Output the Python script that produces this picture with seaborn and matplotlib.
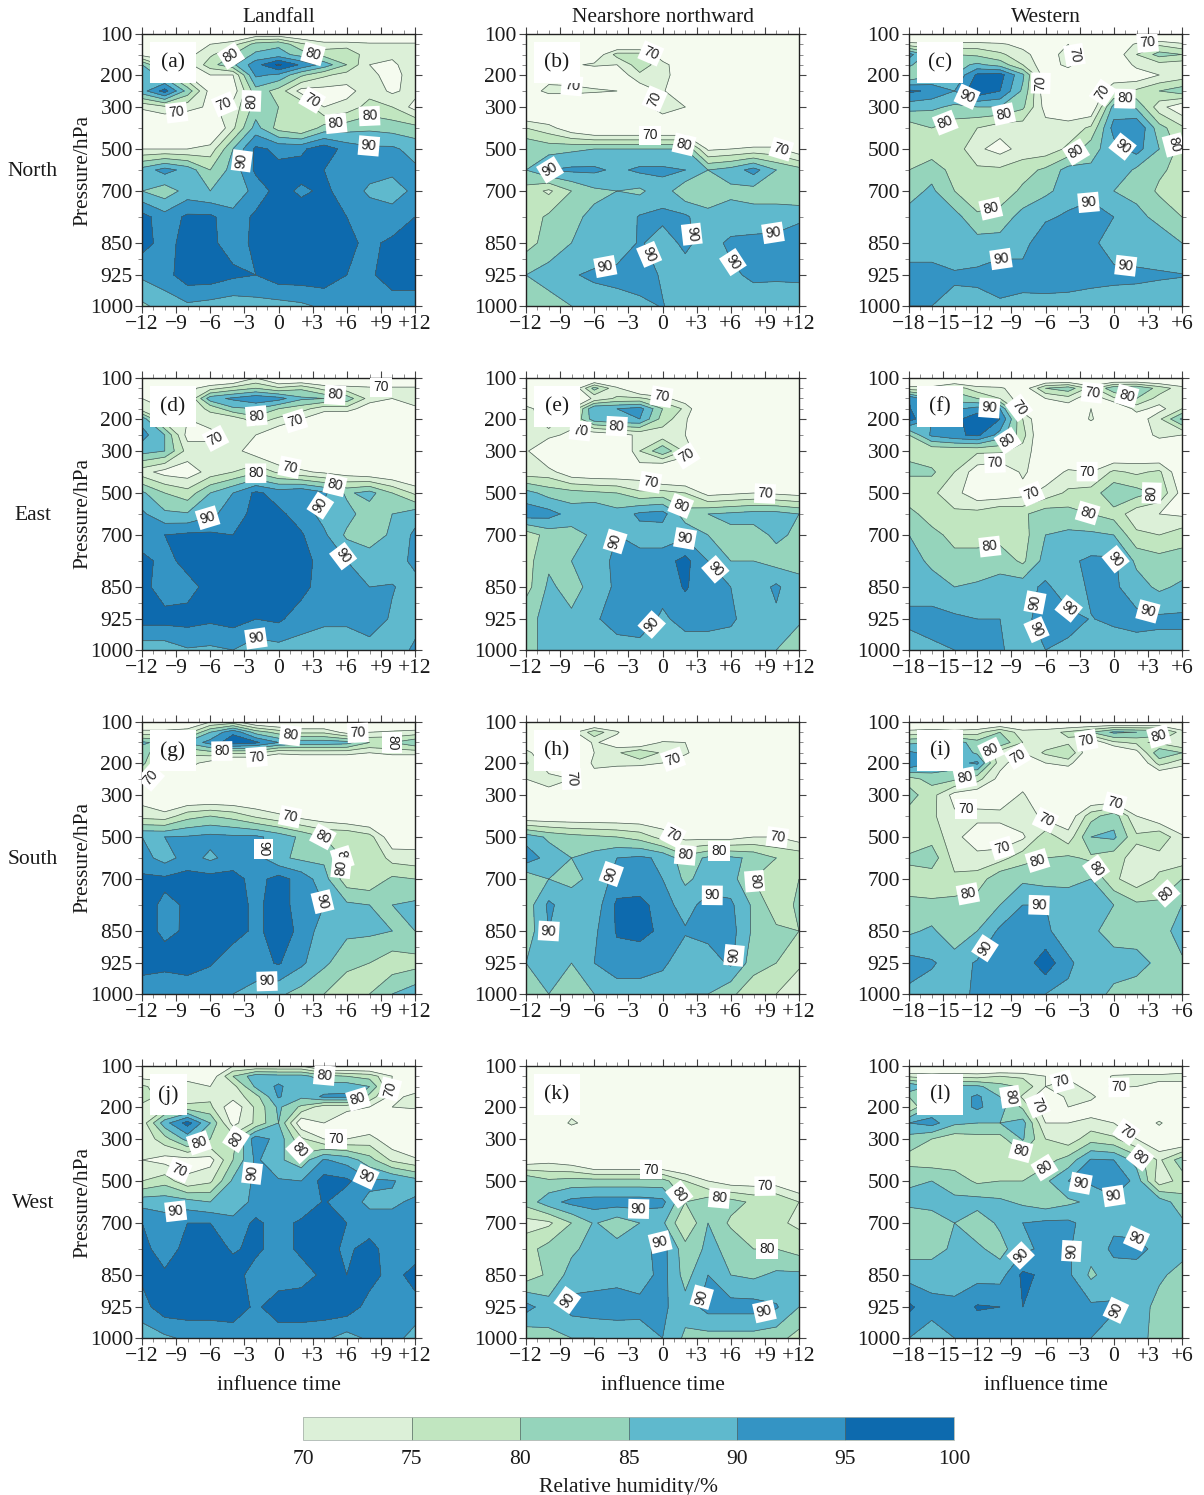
import numpy as np
import seaborn as sns
import matplotlib
matplotlib.use("Agg")
import matplotlib.pyplot as plt
from matplotlib.cm import ScalarMappable
from matplotlib.colors import BoundaryNorm, ListedColormap
from matplotlib.patches import Rectangle

# pressure rows of every grid, top to bottom
pressure = [100, 125, 150, 175, 200, 250, 300, 400, 500, 600, 700, 775, 850, 925, 1000]
time_land = list(range(-12, 13, 2))
time_west = list(range(-18, 7, 2))

row_names = ["North", "East", "South", "West"]
col_names = ["Landfall", "Nearshore northward", "Western"]
rh_levels = [70, 75, 80, 85, 90, 95, 100]

rh_a = [
    [62, 62, 62, 62, 62, 66, 66, 64, 62, 62, 62, 62, 62],
    [66, 66, 66, 70, 73, 82, 84, 76, 72, 72, 71, 71, 71],
    [68, 68, 68, 74, 80, 86, 87, 83, 78, 80, 71, 71, 72],
    [85, 72, 68, 78, 84, 93, 101, 94, 88, 80, 70, 69, 73],
    [90, 82, 70, 70, 70, 91, 89, 81, 76, 73, 72, 67, 74],
    [88, 97, 83, 68, 67, 83, 78, 68, 68, 68, 73, 69, 72],
    [71, 74, 72, 69, 72, 82, 80, 80, 70, 72, 77, 75, 68],
    [62, 62, 62, 62, 74, 87, 78, 75, 82, 83, 84, 83, 82],
    [70, 70, 70, 72, 85, 96, 94, 94, 98, 93, 91, 91, 88],
    [87, 92, 88, 80, 87, 96, 96, 97, 95, 93, 92, 91, 91],
    [85, 82, 87, 85, 86, 92, 97, 94, 96, 93, 89, 88, 91],
    [97, 92, 96, 96, 92, 96, 97, 98, 97, 95, 93, 92, 95],
    [97, 93, 97, 96, 93, 96, 97, 97, 97, 96, 94, 96, 97],
    [91, 93, 98, 98, 96, 95, 98, 98, 98, 95, 94, 98, 98],
    [84, 87, 89, 88, 87, 88, 88, 89, 91, 92, 92, 92, 92],
]
rh_b = [
    [60, 60, 60, 60, 60, 60, 60, 60, 60, 60, 60, 60, 60],
    [60, 60, 60, 60, 62, 62, 60, 60, 60, 60, 60, 60, 60],
    [62, 62, 63, 65, 77, 77, 66, 60, 60, 60, 60, 60, 60],
    [64, 67, 69, 71, 70, 78, 72, 65, 60, 60, 60, 60, 60],
    [66, 67, 66, 64, 66, 74, 72, 66, 60, 60, 60, 60, 60],
    [66, 72, 72, 71, 70, 66, 71, 62, 60, 60, 60, 60, 60],
    [60, 60, 60, 60, 60, 66, 74, 70, 60, 60, 60, 60, 60],
    [75, 72, 66, 62, 62, 62, 62, 62, 60, 60, 60, 60, 60],
    [85, 83, 84, 85, 85, 85, 85, 85, 69, 70, 71, 71, 66],
    [85, 90, 91, 91, 89, 91, 91, 90, 85, 87, 92, 85, 82],
    [78, 74, 80, 84, 85, 84, 88, 81, 83, 84, 83, 83, 80],
    [77, 81, 84, 86, 86, 90.5, 91, 91, 86, 87, 87, 87, 89],
    [78, 82, 85, 86, 87, 90.5, 88, 91, 88, 91, 91.5, 92, 93],
    [85, 87, 89.5, 91, 91.5, 92, 89.5, 88, 87.5, 89, 91, 90.8, 91],
    [80, 83, 85, 87, 88, 89, 90.2, 88, 87, 87, 87, 87, 87],
]
rh_c = [
    [60, 60, 60, 60, 60, 60, 60, 60, 60, 60, 60, 60, 60],
    [72, 71, 72, 72, 71, 68, 70, 70, 62, 64, 71, 74, 71],
    [92, 82, 80, 79, 76, 72, 66, 73, 62, 66, 75, 82, 80],
    [86, 80, 83, 86, 83, 75, 66, 72, 62, 62, 72, 73, 72],
    [80, 84, 85, 96, 97, 86, 66, 65, 65, 66, 66, 70, 72],
    [96, 94, 90, 99, 95, 84, 66, 65, 65, 74, 76, 80, 83],
    [87, 86, 84, 85, 85, 81, 68, 66, 65, 87, 84, 72, 66],
    [77, 80, 77, 75, 72, 72, 72, 72, 76, 92, 95, 82, 76],
    [76, 77, 78, 71, 68, 72, 72, 76, 83, 88, 92, 85, 78],
    [80, 83, 78, 76, 76, 78, 81, 87, 86, 89, 84, 81, 78],
    [83, 86, 80, 76, 77, 81, 84, 87, 88, 85, 84, 79, 78],
    [87, 87, 87, 81, 82, 87, 89, 91, 93, 90, 86, 84, 80],
    [87, 87, 87, 87, 87, 88, 94, 91, 91, 88, 87, 87, 85],
    [92, 92, 90.5, 91, 93, 92, 93, 92.5, 91.5, 91, 91, 90.5, 90.2],
    [90, 90, 89, 88.5, 89, 88.5, 88, 88, 88, 88, 87.5, 87.5, 87.5],
]
rh_d = [
    [62, 62, 62, 62, 62, 70, 62, 62, 62, 62, 62, 62, 62],
    [66, 66, 68, 73, 77, 80, 76, 79, 73, 72, 71, 71, 71],
    [70, 68, 69, 88, 91, 94, 92, 86, 85, 83, 73, 70, 75],
    [72, 70, 72, 76, 84, 85, 80, 77, 72, 73, 66, 66, 68],
    [88, 72, 70, 73, 72, 78, 74, 70, 65, 62, 62, 62, 62],
    [92, 85, 68, 68, 72, 70, 65, 62, 62, 62, 62, 62, 62],
    [87, 85, 73, 73, 72, 67, 62, 62, 62, 62, 62, 62, 62],
    [72, 68, 67, 72, 75, 79, 74, 71, 69, 67, 65, 64, 62],
    [86, 80, 77, 85, 90, 96, 93, 95, 91, 84, 87, 80, 74],
    [91, 86, 85.5, 89, 92, 97, 96, 93, 88, 87, 82, 85, 88],
    [91, 95, 96, 96, 95, 97, 98, 95.5, 91, 84, 82, 86, 91],
    [97, 93, 97, 96, 96, 97, 97, 97, 93, 90, 88, 86, 92],
    [97, 92, 93, 97, 96, 97, 97, 97, 92, 91, 90, 90.5, 87],
    [97, 97, 97, 96, 97, 95, 96, 92, 91, 91, 94, 89, 88],
    [87, 87, 89.5, 89, 90, 87, 88, 88, 87, 87, 87, 87, 91],
]
rh_e = [
    [60, 60, 60, 60, 60, 60, 60, 60, 60, 60, 60, 60, 60],
    [62, 62, 64, 82, 71, 62, 60, 60, 60, 60, 60, 60, 60],
    [64, 64, 64, 71, 76, 76, 72, 66, 66, 60, 60, 60, 60],
    [72, 66, 70, 90, 90, 92, 80, 74, 60, 60, 60, 60, 60],
    [73, 67, 74, 88, 90, 90, 78, 71, 60, 60, 60, 60, 60],
    [72, 72, 68, 66, 68, 71, 72, 70, 60, 60, 60, 60, 60],
    [71, 62, 60, 60, 60, 75, 84, 74, 60, 60, 60, 60, 60],
    [72, 72, 66, 65, 65, 66, 60, 60, 60, 60, 60, 60, 60],
    [87, 83, 82, 81, 80, 76, 77, 75, 68, 69, 70, 69, 68],
    [93, 92, 88, 90, 87, 91, 92, 82, 85, 86, 87, 87, 85],
    [77, 82, 83, 86, 90, 88, 87, 89, 85, 84, 83, 86, 84],
    [78, 84, 85, 86, 92, 92, 93, 96.5, 90, 85, 85, 83, 84],
    [78, 86, 83, 87, 91, 92, 92, 95.5, 92, 90, 87, 91, 86],
    [84, 86, 86, 89, 93, 93, 89, 92, 92, 91, 87, 89, 86],
    [84, 86, 86, 85, 87, 88, 87, 87, 87, 87, 86, 85, 81],
]
rh_f = [
    [60, 60, 60, 60, 60, 60, 60, 60, 60, 60, 60, 60, 60],
    [72, 72, 78, 72, 71, 66, 80, 83, 73, 84, 85, 78, 72],
    [95, 85, 83, 80, 75, 66, 70, 73, 65, 74, 80, 73, 72],
    [96, 80, 89, 92, 90, 67, 62, 66, 70, 62, 72, 68, 75],
    [97, 90, 93, 99, 95, 75, 62, 62, 71, 62, 66, 74, 86],
    [80, 91, 94, 96, 88, 77, 62, 62, 62, 62, 65, 72, 70],
    [79, 76, 76, 76, 76, 73, 65, 62, 62, 62, 64, 62, 60],
    [81, 81, 75, 67, 65, 71, 66, 71, 70, 76, 74, 76, 65],
    [76, 76, 72, 66, 66, 68, 72, 76, 77, 84, 82, 79, 68],
    [82, 77, 76, 77, 80, 79, 83, 82, 80, 78, 72, 70, 69],
    [85, 82, 78, 79, 78, 78, 85, 86, 86, 85, 76, 75, 78],
    [87, 84, 82, 81, 83, 79, 87, 89, 91, 91, 84, 82, 82],
    [87, 87, 85, 86, 87, 88, 91, 87, 91, 91, 87, 84, 86],
    [92, 92, 91, 90, 90, 89, 91.5, 91.5, 89.8, 91, 91.5, 91, 91],
    [86, 89, 90, 90.5, 90.5, 88, 90, 89, 88, 87, 88, 88, 88],
]
rh_g = [
    [62, 62, 64, 70, 72, 64, 62, 62, 62, 62, 62, 62, 62],
    [72, 72, 73, 85, 94, 83, 78, 74, 74, 68, 70, 71, 72],
    [86, 83, 86, 92, 98, 96, 90, 88, 88, 87, 80, 80, 84],
    [82, 76, 76, 78, 76, 76, 71, 72, 72, 72, 70, 72, 72],
    [82, 68, 72, 68, 62, 62, 62, 62, 62, 62, 62, 62, 62],
    [72, 66, 66, 62, 62, 62, 62, 62, 62, 62, 62, 62, 62],
    [67, 62, 62, 62, 62, 62, 62, 62, 62, 62, 62, 62, 62],
    [73, 72, 78, 80, 78, 74, 71, 68, 66, 64, 62, 62, 62],
    [90, 90, 90.5, 91.5, 91, 91, 88, 84, 80, 80, 77, 66, 67],
    [92, 88, 92, 89, 92, 92, 86, 84, 84, 79, 80, 73, 72],
    [96, 96, 97, 97, 97, 93, 97, 93, 87, 77, 76, 81, 80],
    [97, 94, 95.5, 96, 97, 94, 97, 93, 90, 86, 85, 85, 86],
    [97, 94, 95.6, 97, 97, 94, 97, 94, 87, 86, 86, 85, 85],
    [97, 97, 97, 95.5, 92, 93, 95.5, 91, 86, 82, 80, 77, 78],
    [92, 90, 92, 91, 90, 88, 86, 83, 80, 75, 80, 85, 88],
]
rh_h = [
    [60, 60, 60, 60, 60, 60, 60, 60, 60, 60, 66, 66, 66],
    [62, 62, 68, 78, 71, 60, 60, 60, 60, 60, 60, 60, 60],
    [65, 62, 63, 71, 66, 63, 71, 70, 60, 60, 60, 60, 60],
    [72, 64, 64, 70, 74, 80, 74, 72, 60, 60, 60, 60, 60],
    [76, 66, 64, 71, 72, 72, 70, 62, 60, 60, 60, 60, 60],
    [70, 72, 70, 68, 62, 60, 60, 60, 60, 60, 60, 60, 60],
    [66, 68, 60, 60, 60, 60, 60, 60, 60, 60, 60, 60, 60],
    [65, 65, 65, 65, 65, 65, 65, 62, 60, 60, 60, 60, 60],
    [88, 84, 82, 81, 80, 78, 73, 68, 68, 68, 70, 70, 67],
    [93, 88, 85, 87, 90, 91, 89, 82, 86, 86, 84, 80, 79],
    [81, 85, 84, 86, 92, 91, 90, 84, 87, 87, 80, 78, 80],
    [82, 91, 87, 87, 96, 97, 92, 88, 92, 91, 84, 77, 81],
    [82, 90, 86, 89, 95.5, 96.5, 94, 90.5, 92, 92, 84, 81, 80],
    [85, 87, 85, 90, 93, 92, 91, 87, 87, 91, 82, 80, 76],
    [84, 85, 85, 85, 87, 88, 87, 85, 85, 81, 77, 75, 71],
]
rh_i = [
    [62, 62, 62, 62, 62, 62, 62, 62, 62, 62, 62, 62, 62],
    [72, 73, 72, 73, 80, 72, 73, 76, 80, 86, 85, 84, 72],
    [84, 85, 88, 82, 84, 75, 72, 74, 65, 74, 76, 74, 70],
    [91, 88, 89, 84, 72, 70, 76, 80, 64, 62, 68, 84, 80],
    [95, 90, 88, 91, 72, 66, 70, 72, 62, 62, 63, 77, 72],
    [78, 82, 81, 77, 68, 66, 62, 62, 62, 62, 62, 62, 62],
    [82, 77, 68, 66, 65, 71, 62, 62, 62, 62, 62, 62, 62],
    [78, 76, 71, 72, 72, 74, 68, 66, 78, 83, 70, 65, 62],
    [76, 78, 72, 66, 66, 69, 78, 72, 85, 86, 76, 79, 71],
    [81, 83, 73, 72, 73, 78, 80, 81, 79, 77, 73, 73, 72],
    [78, 77, 76, 77, 84, 84, 83, 84, 85, 76, 72, 76, 80],
    [81, 81, 82, 83, 85, 90, 90, 87, 87, 85, 81, 81, 85],
    [84, 86, 81, 85, 91, 91, 91, 87, 86, 83, 83, 82, 88],
    [92, 90.5, 88, 90.5, 92, 92, 98, 91, 87, 87, 86.5, 84, 84],
    [89, 88, 88, 91, 90, 91, 90, 89, 87, 84, 83, 82, 84],
]
rh_j = [
    [62, 62, 62, 62, 70, 70, 70, 70, 62, 62, 62, 62, 62],
    [68, 68, 68, 66, 80, 88, 87, 87, 82, 80, 78, 70, 64],
    [76, 72, 72, 70, 73, 86, 91, 86, 87, 88, 85, 69, 66],
    [80, 71, 71, 74, 72, 78, 90.5, 86, 91, 91, 78, 68, 72],
    [72, 73, 77, 76, 66, 76, 86, 79, 72, 72, 70, 70, 71],
    [72, 88, 97, 85, 68, 76, 85, 66, 70, 65, 65, 64, 62],
    [71, 78, 87, 80, 78, 93, 88, 76, 70, 70, 72, 66, 62],
    [70, 68, 68, 68, 80, 91, 86, 82, 90.5, 88, 82, 74, 71],
    [75, 78, 71, 74, 86, 91, 90.5, 90, 97, 96, 91, 90.5, 87],
    [88, 88, 87, 85, 86, 92, 92, 91, 95.5, 92, 89, 89, 91],
    [95, 92, 95, 95, 92, 96, 93, 96, 96, 95, 92, 92, 92],
    [97, 92, 97, 97, 94.5, 96, 93, 96, 97, 94, 97, 92, 92],
    [96, 96, 97, 97, 97, 93, 92, 93, 96, 95, 97, 93, 97],
    [93, 98, 98, 98, 98, 94, 98, 98, 98, 98, 93, 93, 93],
    [87, 89, 91, 91, 92, 92, 92, 92, 91, 88, 91, 92, 88],
]
rh_k = [
    [60, 60, 60, 60, 60, 60, 60, 60, 60, 60, 60, 60, 60],
    [60, 60, 60, 60, 60, 60, 60, 60, 60, 60, 60, 60, 60],
    [60, 60, 60, 60, 60, 60, 60, 60, 60, 60, 60, 60, 60],
    [60, 60, 60, 60, 60, 60, 60, 60, 60, 60, 60, 60, 60],
    [60, 62, 66, 64, 60, 60, 60, 60, 60, 60, 60, 60, 60],
    [60, 62, 71.5, 66, 60, 60, 60, 60, 60, 60, 60, 60, 60],
    [60, 60, 60, 60, 60, 60, 60, 60, 60, 60, 60, 60, 60],
    [66, 68, 66, 60, 60, 60, 60, 60, 60, 60, 60, 60, 60],
    [85, 81, 82, 82, 82, 82, 82, 75, 70, 67, 67, 67, 63],
    [82, 88, 91.5, 92.5, 92.5, 92.5, 91.5, 80, 83, 82, 79, 80, 75],
    [73, 74, 80, 85.5, 82, 85, 86, 75, 85, 79, 76, 76, 74],
    [78, 82, 84, 87, 87, 88, 92, 82, 86, 84, 80, 80, 78],
    [77, 81, 87, 87, 88, 87, 92, 83, 90, 85, 84, 86, 86],
    [92, 87, 92, 93, 93, 92, 91, 87, 92, 92, 92, 90.5, 85],
    [81, 84, 85, 85, 86, 87, 90, 84, 83, 83, 83, 82, 78],
]
rh_l = [
    [60, 60, 60, 60, 60, 60, 60, 60, 60, 60, 60, 60, 60],
    [74, 73, 74, 73, 75, 74, 70, 68, 64, 71, 72, 72, 74],
    [90, 84, 86, 86, 82, 79, 70, 74, 66, 71, 70, 68, 66],
    [80, 85, 87, 91, 85, 74, 66, 71, 72, 62, 62, 64, 64],
    [76, 86, 87, 91, 87, 79, 66, 70, 66, 62, 62, 62, 62],
    [90, 92, 86, 85, 85, 87, 70, 70, 72, 70, 64, 71, 63],
    [83, 80, 77, 78, 78, 85.5, 75, 72, 78, 76, 70, 64, 62],
    [78, 77, 77, 76, 75, 77, 78, 82, 90.5, 90, 83, 74, 83],
    [84.5, 85, 83, 79, 80, 80, 84, 90, 91, 95, 88, 72, 77],
    [86, 87, 86, 87, 86, 84, 82, 84, 86, 88, 88, 88, 82],
    [82, 82, 85, 82, 86, 90, 91, 91, 88, 89, 87, 90, 86],
    [83, 83, 86, 86, 83, 89, 91, 90.5, 87, 91, 92, 88, 87],
    [88, 88, 88, 88, 88, 96, 94, 91, 84, 88, 87, 86, 83],
    [96, 91.5, 91, 95.5, 95, 95, 94, 91.5, 91, 90.5, 88, 83, 83],
    [90, 88, 90, 91, 90.5, 90.5, 90, 91, 90, 88, 87, 83, 83],
]
panels = [rh_a, rh_b, rh_c, rh_d, rh_e, rh_f, rh_g, rh_h, rh_i, rh_j, rh_k, rh_l]

# contour labels: value -> pixel offsets from the panel's top left corner
labels = [
    {70: [(35, 81), (83, 72), (159, 85)], 80: [(91, 25), (171, 20), (115, 67), (228, 69), (194, 89)], 90: [(228, 104), (86, 125)]},
    {70: [(124, 22), (122, 62), (124, 105), (255, 116), (46, 51)], 80: [(158, 114)], 90: [(23, 128), (176, 199), (247, 199), (124, 220), (79, 231), (193, 238)]},
    {70: [(166, 21), (239, 13), (126, 49), (177, 51)], 80: [(93, 73), (216, 63), (38, 93), (153, 94), (255, 115), (80, 167)], 90: [(57, 65), (216, 110), (175, 157), (92, 219), (216, 238)]},
    {70: [(239, 14), (153, 42), (80, 72), (148, 87)], 80: [(193, 19), (115, 40), (114, 93), (194, 103)], 90: [(62, 126), (182, 130), (204, 176), (114, 260)]},
    {70: [(134, 32), (53, 63), (156, 73), (124, 106), (239, 115)], 80: [(91, 45), (158, 121)], 90: [(158, 158), (91, 164), (192, 189), (136, 256)]},
    {70: [(107, 32), (182, 17), (87, 95), (178, 95), (125, 122)], 80: [(99, 63), (216, 24), (182, 124), (254, 115), (80, 161)], 90: [(80, 34), (211, 178), (108, 221), (160, 230), (129, 251), (239, 233)]},
    {70: [(216, 13), (114, 31), (23, 66), (148, 95)], 80: [(148, 15), (244, 21), (80, 35), (182, 110), (228, 128), (194, 145)], 90: [(126, 127), (182, 179), (125, 259)]},
    {70: [(148, 40), (59, 64), (147, 113), (250, 121)], 80: [(193, 131), (156, 147), (231, 158)], 90: [(102, 158), (187, 169), (34, 228), (204, 233)]},
    {70: [(178, 21), (114, 42), (57, 95), (133, 106), (205, 83), (91, 121)], 80: [(80, 24), (250, 16), (57, 61), (128, 137), (57, 162), (170, 159), (255, 169)], 90: [(130, 190), (68, 221)]},
    {70: [(248, 23), (194, 76), (35, 109)], 80: [(182, 16), (216, 33), (57, 77), (91, 71), (159, 83)], 90: [(99, 106), (228, 104), (34, 148)]},
    {70: [(125, 105), (239, 121)], 80: [(155, 127), (193, 134), (241, 158)], 90: [(113, 139), (125, 164), (37, 231), (175, 231), (239, 248)]},
    {70: [(155, 22), (210, 22), (122, 42), (216, 68)], 80: [(91, 32), (102, 97), (137, 104), (227, 98)], 90: [(171, 121), (205, 132), (239, 148), (111, 189), (171, 185), (216, 251)]},
]

W, H = 1204, 1495
LEFTS = [142, 526, 909]
TOPS = [34, 378, 722, 1066]
PW, PH = 273, 272
TICK_P = [100, 200, 300, 500, 700, 850, 925, 1000]
TICK_POS = [0, 41, 73, 115, 157, 209, 241, 272]
LINE = "#4d5a55"

sns.set_theme(style="ticks")
plt.rcParams["font.family"] = ["Liberation Serif", "DejaVu Sans"]
plt.rcParams["font.size"] = 15.5

colors = ["#dcf0d8", "#c1e6c0", "#95d4bb", "#5fb9cd", "#3494c4", "#0d6aae"]
cmap = ListedColormap(sns.color_palette(colors))
cmap.set_under("#f5fbef")
cmap.set_over("#08478c")
norm = BoundaryNorm(rh_levels, cmap.N)


def to_pos(p):
    return np.interp(p, TICK_P, TICK_POS)


def to_p(y):
    return np.interp(y, TICK_POS, TICK_P)


def add_axes(x, y, w, h):
    return fig.add_axes([x / W, 1 - (y + h) / H, w / W, h / H])


fig = plt.figure(figsize=(W / 100, H / 100), dpi=100)

for i, grid in enumerate(panels):
    row, col = i // 3, i % 3
    ax = add_axes(LEFTS[col], TOPS[row], PW, PH)
    times = time_west if col == 2 else time_land
    t0, t1 = times[0], times[-1]
    Z = np.array(grid, dtype=float)

    ax.set_yscale("function", functions=(to_pos, to_p))
    ax.contourf(times, pressure, Z, levels=rh_levels, cmap=cmap, norm=norm, extend="both")
    ax.contour(times, pressure, Z, levels=[75, 85, 95, 100], colors=LINE, linewidths=0.5)
    ax.set_xlim(t0, t1)
    ax.set_ylim(1000, 100)

    # labelled levels get their own contour set, so each label lands on its value
    for val, spots in labels[i].items():
        cs = ax.contour(times, pressure, Z, levels=[val], colors=LINE, linewidths=0.5)
        pts = [(t0 + dx / PW * (t1 - t0), float(to_p(dy))) for dx, dy in spots]
        texts = ax.clabel(cs, manual=pts, inline=False, fmt="%d", colors="#222222", fontsize=10)
        for t in texts:
            t.set_family(["Liberation Sans"])
            t.set_bbox(dict(facecolor="white", edgecolor="none", pad=2))

    xt = list(range(t0, t1 + 1, 3))
    ax.set_xticks(xt)
    ax.set_xticklabels([f"+{v}" if v > 0 else str(v).replace("-", "\u2212") for v in xt])
    ax.set_xticks(list(range(t0, t1 + 1)), minor=True)
    ax.set_yticks(TICK_P)
    ax.set_yticklabels([str(p) for p in TICK_P])
    ax.set_yticks([125, 150, 175, 250, 400, 600, 775, 887], minor=True)
    ax.tick_params(which="major", direction="out", length=5, width=0.8, color="#444444",
                   top=True, right=True, labelsize=15.5, pad=1.5, labelcolor="#1a1a1a")
    ax.tick_params(which="minor", direction="out", length=3, width=0.6, color="#777777",
                   top=True, right=True)
    for tk in ax.yaxis.get_major_ticks():
        tk.tick2line.set_color("#999999")
    for s in ax.spines.values():
        s.set_linewidth(1.0)
        s.set_color("#222222")

    # white box behind the panel letter hides whatever is under it
    bw = 37 if i == 9 else 46
    ax.add_patch(Rectangle((8 / PW, 1 - 49 / PH), bw / PW, 41 / PH, transform=ax.transAxes,
                           facecolor="white", edgecolor="none", zorder=10))
    ax.text((8 + bw / 2) / PW, 1 - 29 / PH, f"({'abcdefghijkl'[i]})", transform=ax.transAxes,
            ha="center", va="center", fontsize=15.5, color="#1a1a1a", zorder=11)

    if col == 0:
        ax.set_ylabel("Pressure/hPa", fontsize=15.5, labelpad=-2, color="#1a1a1a")
        fig.text(33 / W, 1 - (TOPS[row] + 137) / H, row_names[row], ha="center", va="center",
                 fontsize=15.5, color="#1a1a1a")
    if row == 0:
        fig.text((LEFTS[col] + PW / 2) / W, 1 - 17 / H, col_names[col], ha="center", va="center",
                 fontsize=15.5, color="#1a1a1a")
    if row == 3:
        ax.set_xlabel("influence time", fontsize=15.5, labelpad=7, color="#1a1a1a")

cax = add_axes(303, 1417, 651, 23)
cb = fig.colorbar(ScalarMappable(norm=norm, cmap=cmap), cax=cax, orientation="horizontal",
                  ticks=rh_levels, drawedges=True, extend="neither", spacing="uniform")
cb.dividers.set_color("#556660")
cb.dividers.set_linewidth(0.5)
cb.outline.set_edgecolor("#aab5ae")
cb.outline.set_linewidth(0.6)
cb.ax.tick_params(length=0, labelsize=15.5, pad=7, labelcolor="#1a1a1a")
cb.set_label("Relative humidity/%", fontsize=15.5, labelpad=7, color="#1a1a1a")

fig.savefig("out.png", dpi=100)
